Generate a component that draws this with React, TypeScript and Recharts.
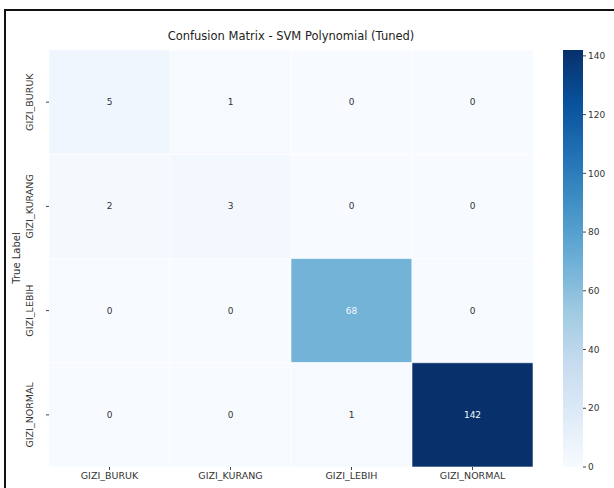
import { BarChart, Bar, XAxis, YAxis, Cell, LabelList } from "recharts";

const predictedLabels = ["GIZI_BURUK", "GIZI_KURANG", "GIZI_LEBIH", "GIZI_NORMAL"];
const trueLabels = ["GIZI_BURUK", "GIZI_KURANG", "GIZI_LEBIH", "GIZI_NORMAL"];
// matrix[row = true][col = predicted]
const rowBuruk = [5, 1, 0, 0];
const rowKurang = [2, 3, 0, 0];
const rowLebih = [0, 0, 68, 0];
const rowNormal = [0, 0, 1, 142];
const matrix = [rowBuruk, rowKurang, rowLebih, rowNormal];
const colorbarTicks = [0, 20, 40, 60, 80, 100, 120, 140];
const vmax = 142;

// matplotlib "Blues"
const blues = ["#f7fbff", "#deebf7", "#c6dbef", "#9ecae1", "#6baed6", "#4292c6", "#2171b5", "#08519c", "#08306b"];

function hexToRgb(h: string) {
  return [parseInt(h.slice(1, 3), 16), parseInt(h.slice(3, 5), 16), parseInt(h.slice(5, 7), 16)];
}

function bluesColor(v: number) {
  const t = Math.max(0, Math.min(1, v / vmax)) * (blues.length - 1);
  const i = Math.min(blues.length - 2, Math.floor(t));
  const f = t - i;
  const a = hexToRgb(blues[i]);
  const b = hexToRgb(blues[i + 1]);
  const c = a.map((x, k) => Math.round(x + (b[k] - x) * f));
  return `rgb(${c[0]},${c[1]},${c[2]})`;
}

// one row per predicted column, one stacked segment per true row
const data = predictedLabels.map((name, col) => {
  const row: Record<string, number | string> = { name };
  trueLabels.forEach((_, r) => {
    row["r" + r] = 1;
    row["v" + r] = matrix[r][col];
  });
  return row;
});

const font = "'DejaVu Sans', sans-serif";

const XTick = (props: any) => {
  const { x, y, payload } = props;
  return (
    <text x={x} y={y + 7} textAnchor="middle" fontSize={9.5} fill="#333" fontFamily={font}>
      {payload.value}
    </text>
  );
};

const YTick = (props: any) => {
  const { x, y, payload } = props;
  const label = trueLabels[Math.floor(payload.value)];
  const tx = x - 11;
  return (
    <text
      x={tx}
      y={y}
      transform={`rotate(-90 ${tx} ${y})`}
      textAnchor="middle"
      fontSize={9.5}
      fill="#333"
      fontFamily={font}
    >
      {label}
    </text>
  );
};

export default function App() {
  return (
    <div style={{ position: "absolute", left: 0, top: 0, width: 614, height: 488, background: "#fff", overflow: "hidden" }}>
      <div
        style={{
          position: "absolute",
          left: 4,
          top: 9,
          width: 620,
          height: 490,
          borderTop: "2px solid #111",
          borderLeft: "2px solid #111",
        }}
      />
      <div
        style={{
          position: "absolute",
          left: 49,
          width: 484,
          top: 29,
          textAlign: "center",
          fontFamily: font,
          fontSize: 11.5,
          color: "#222",
        }}
      >
        Confusion Matrix - SVM Polynomial (Tuned)
      </div>
      <div
        style={{
          position: "absolute",
          left: 10,
          top: 258,
          transform: "translate(-50%, -50%) rotate(-90deg)",
          fontFamily: font,
          fontSize: 10,
          color: "#333",
          whiteSpace: "nowrap",
          marginLeft: 6,
        }}
      >
        True Label
      </div>
      <div style={{ position: "absolute", left: 0, top: 0 }}>
        <BarChart
          width={614}
          height={488}
          data={data}
          margin={{ top: 50, right: 81, bottom: 0, left: 0 }}
          barCategoryGap={0}
          barGap={0}
        >
          <XAxis
            dataKey="name"
            height={21}
            axisLine={false}
            tickSize={3}
            tickLine={{ stroke: "#444" }}
            tick={<XTick />}
            interval={0}
          />
          <YAxis
            type="number"
            domain={[0, 4]}
            reversed
            ticks={[0.5, 1.5, 2.5, 3.5]}
            width={49}
            axisLine={false}
            tickSize={3}
            tickLine={{ stroke: "#444" }}
            tick={<YTick />}
          />
          {trueLabels.map((_, r) => (
            <Bar key={r} dataKey={"r" + r} stackId="m" isAnimationActive={false} stroke="#fff" strokeWidth={0.6}>
              {predictedLabels.map((__, c) => (
                <Cell key={c} fill={bluesColor(matrix[r][c])} />
              ))}
              <LabelList
                dataKey={"v" + r}
                position="center"
                content={(p: any) => {
                  const v = Number(p.value);
                  const light = v / vmax > 0.4;
                  return (
                    <text
                      x={p.x + p.width / 2}
                      y={p.y + p.height / 2}
                      textAnchor="middle"
                      dominantBaseline="central"
                      fontSize={9}
                      fontFamily={font}
                      fill={light ? "#f4f8fc" : "#333"}
                    >
                      {v}
                    </text>
                  );
                }}
              />
            </Bar>
          ))}
        </BarChart>
      </div>
      <div style={{ position: "absolute", left: 563, top: 0 }}>
        <BarChart
          width={51}
          height={488}
          data={[{ name: "cb", value: vmax }]}
          margin={{ top: 50, right: 0, bottom: 21, left: 0 }}
          barCategoryGap={0}
        >
          <defs>
            <linearGradient id="bluesGrad" x1="0" y1="1" x2="0" y2="0">
              {blues.map((c, i) => (
                <stop key={i} offset={`${(i / (blues.length - 1)) * 100}%`} stopColor={c} />
              ))}
            </linearGradient>
          </defs>
          <XAxis dataKey="name" hide />
          <YAxis
            orientation="right"
            type="number"
            domain={[0, vmax]}
            ticks={colorbarTicks}
            width={31}
            axisLine={false}
            tickSize={3}
            tickLine={{ stroke: "#444" }}
            tick={{ fontSize: 9, fill: "#333", fontFamily: font }}
            interval={0}
          />
          <Bar dataKey="value" fill="url(#bluesGrad)" isAnimationActive={false} />
        </BarChart>
      </div>
    </div>
  );
}
